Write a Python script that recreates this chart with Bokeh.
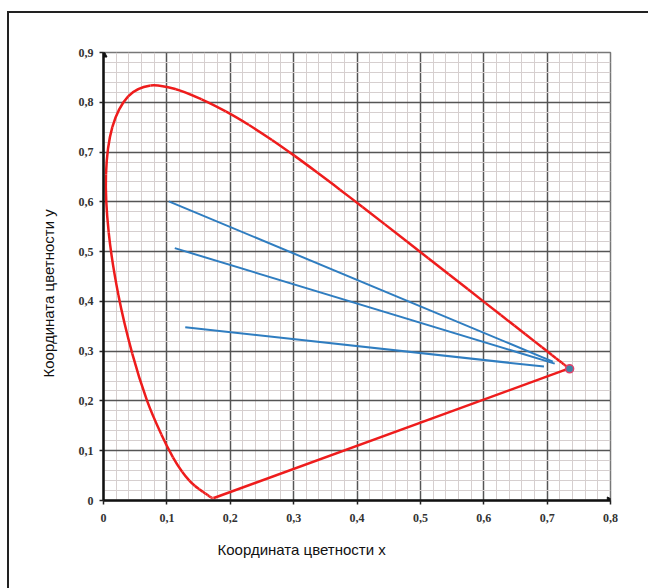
import numpy as np
from bokeh.plotting import figure
from bokeh.models import (SingleIntervalTicker, CustomJSTickFormatter, Title,
                          Arrow, NormalHead, Range1d)
from bokeh.embed import file_html
from bokeh.resources import INLINE

# CIE 1931 spectral locus (380..700 nm)
locus_x = [0.1741, 0.1740, 0.1738, 0.1736, 0.1733, 0.1730, 0.1726, 0.1721, 0.1714,
           0.1703, 0.1689, 0.1669, 0.1644, 0.1611, 0.1566, 0.1510, 0.1440, 0.1355,
           0.1241, 0.1096, 0.0913, 0.0687, 0.0454, 0.0235, 0.0082, 0.0039, 0.0139,
           0.0389, 0.0743, 0.1142, 0.1547, 0.1929, 0.2296, 0.2658, 0.3016, 0.3373,
           0.3731, 0.4087, 0.4441, 0.4788, 0.5125, 0.5448, 0.5752, 0.6029, 0.6270,
           0.6482, 0.6658, 0.6801, 0.6915, 0.7006, 0.7079, 0.7140, 0.7190, 0.7230,
           0.7260, 0.7283, 0.7300, 0.7311, 0.7320, 0.7327, 0.7334, 0.7344, 0.7347]
locus_y = [0.0050, 0.0050, 0.0049, 0.0049, 0.0048, 0.0048, 0.0048, 0.0048, 0.0051,
           0.0058, 0.0069, 0.0086, 0.0109, 0.0138, 0.0177, 0.0227, 0.0297, 0.0399,
           0.0578, 0.0868, 0.1327, 0.2007, 0.2950, 0.4127, 0.5384, 0.6548, 0.7502,
           0.8120, 0.8338, 0.8262, 0.8059, 0.7816, 0.7543, 0.7243, 0.6923, 0.6589,
           0.6245, 0.5896, 0.5547, 0.5202, 0.4866, 0.4544, 0.4242, 0.3965, 0.3725,
           0.3514, 0.3340, 0.3197, 0.3083, 0.2993, 0.2920, 0.2859, 0.2809, 0.2770,
           0.2740, 0.2717, 0.2700, 0.2689, 0.2680, 0.2673, 0.2666, 0.2656, 0.2653]

# blue lines
line_x0 = [0.103, 0.1125, 0.129]
line_y0 = [0.601, 0.507, 0.348]
line_x1 = [0.709, 0.712, 0.695]
line_y1 = [0.279, 0.275, 0.269]

# end point
point_x = [0.7355]
point_y = [0.2645]

x_label = "Координата цветности x"
y_label = "Координата цветности y"

# smooth (Catmull-Rom) rendering of the locus as bezier segments
px = np.array(locus_x)
py = np.array(locus_y)
n = len(px)
ext_x = np.concatenate([[px[0]], px, [px[-1]]])
ext_y = np.concatenate([[py[0]], py, [py[-1]]])
i = np.arange(n - 1) + 1
bx0, by0 = ext_x[i], ext_y[i]
bx1, by1 = ext_x[i + 1], ext_y[i + 1]
cx0 = bx0 + (ext_x[i + 1] - ext_x[i - 1]) / 6
cy0 = by0 + (ext_y[i + 1] - ext_y[i - 1]) / 6
cx1 = bx1 - (ext_x[i + 2] - ext_x[i]) / 6
cy1 = by1 - (ext_y[i + 2] - ext_y[i]) / 6

p = figure(width=654, height=588, x_range=Range1d(0, 0.8), y_range=Range1d(0, 0.9),
           output_backend="svg", toolbar_location=None,
           min_border_left=103, min_border_right=44, min_border_top=52, min_border_bottom=88)
p.styles = {
    "background-color": "white",
    "background-image": ("linear-gradient(to right, transparent 7px, #222222 7px, "
                         "#222222 9px, transparent 9px), "
                         "linear-gradient(to bottom, transparent 11px, #222222 11px, "
                         "#222222 13px, transparent 13px)"),
    "background-size": "100% 577px, 647px 100%",
    "background-position": "0px 11px, 7px 0px",
    "background-repeat": "no-repeat, no-repeat",
}
p.border_fill_alpha = 0
p.background_fill_color = "white"
p.outline_line_color = "#777777"
p.outline_line_width = 1.5

for ax in (p.xaxis[0], p.yaxis[0]):
    ax.ticker = SingleIntervalTicker(interval=0.1, num_minor_ticks=5)
    ax.formatter = CustomJSTickFormatter(code="""
        const t = Math.round(tick*10)/10;
        return t === 0 ? "0" : t.toFixed(1).replace(".", ",");
    """)
    ax.axis_line_width = 2.5
    ax.axis_line_color = "#111111"
    ax.major_tick_out = 4
    ax.major_tick_in = 0
    ax.major_tick_line_color = "#222222"
    ax.major_tick_line_width = 1.5
    ax.minor_tick_out = 0
    ax.minor_tick_in = 0
    ax.major_label_text_font = "Liberation Serif"
    ax.major_label_text_font_style = "bold"
    ax.major_label_text_font_size = "12px"
    ax.major_label_text_color = "#333333"
p.xaxis.major_label_standoff = 9
p.yaxis.major_label_standoff = 6

p.grid.grid_line_color = "#555555"
p.grid.grid_line_width = 1.5
p.grid.minor_grid_line_color = "#d6cfcf"
p.grid.minor_grid_line_width = 1

p.bezier(x0=bx0, y0=by0, x1=bx1, y1=by1, cx0=cx0, cy0=cy0, cx1=cx1, cy1=cy1,
         line_color="#ee1c1c", line_width=2.5)
p.line([locus_x[-1], locus_x[0]], [locus_y[-1], locus_y[0]],
       line_color="#ee1c1c", line_width=2.5)
p.segment(line_x0, line_y0, line_x1, line_y1, line_color="#2f7dc0", line_width=2)
p.scatter(point_x, point_y, size=8, fill_color="#3f86a8", line_color="#e0406a", line_width=1.5)

p.add_layout(Arrow(end=NormalHead(size=7, fill_color="#111111", line_color="#111111"),
                   x_start=0, y_start=0.88, x_end=0, y_end=0.905, line_width=0))
p.add_layout(Arrow(end=NormalHead(size=7, fill_color="#111111", line_color="#111111"),
                   x_start=0.78, y_start=0, x_end=0.806, y_end=0, line_width=0))

font = "Liberation Sans"
fs = "15px"
p.add_layout(Title(text=x_label, align="left", offset=114, standoff=28,
                   text_font=font, text_font_size=fs, text_font_style="normal",
                   text_color="#111111"), "below")
p.add_layout(Title(text=y_label, align="left", offset=123, standoff=38,
                   text_font=font, text_font_size=fs, text_font_style="normal",
                   text_color="#111111"), "left")

open("out.html", "w").write(file_html(p, INLINE))
